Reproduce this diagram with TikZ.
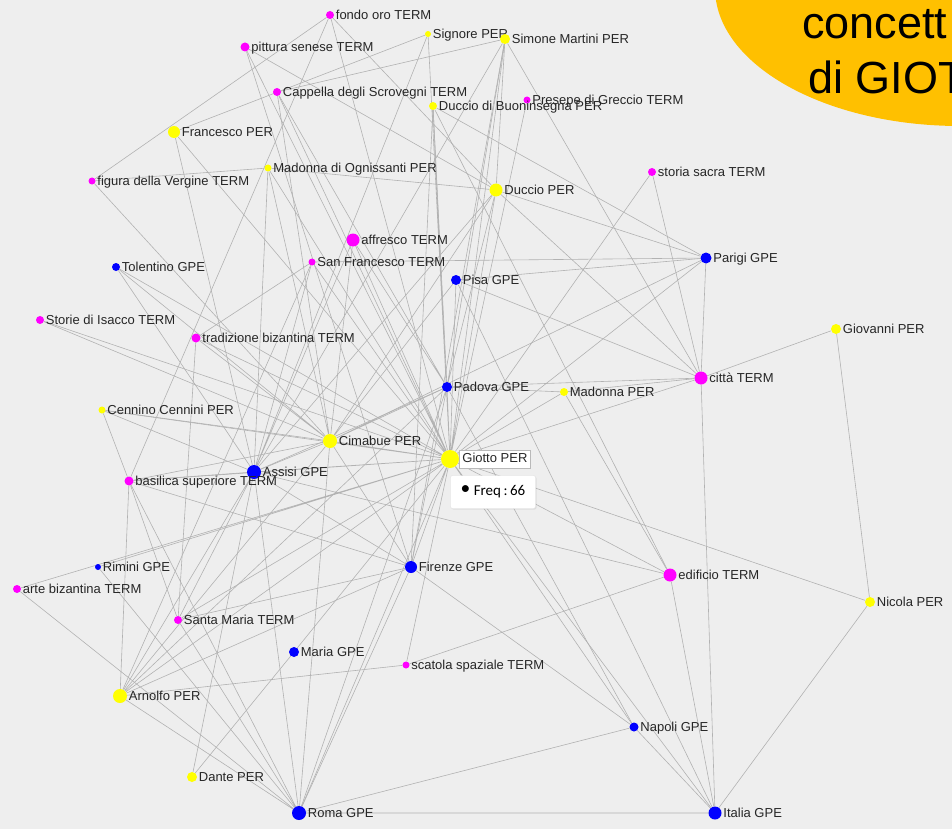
\documentclass[tikz,border=0pt]{standalone}
\usepackage{fontspec}
\setmainfont{Liberation Sans}
\newfontfamily\tipfont{Carlito}
\usetikzlibrary{positioning, shadows}

\definecolor{bggray}{RGB}{238,238,238}
\definecolor{blobgold}{RGB}{255,192,0}
\definecolor{lnkgray}{RGB}{178,178,178}
\definecolor{peryellow}{RGB}{255,255,0}
\definecolor{termpink}{RGB}{255,0,255}
\definecolor{gpeblue}{RGB}{0,0,255}

\pgfdeclarelayer{back}
\pgfdeclarelayer{links}
\pgfsetlayers{back,links,main}

\begin{document}
\begin{tikzpicture}[
  x=1pt, y=-1pt,
  spot/.style={circle, inner sep=0pt, minimum size=#1pt},
  per/.style={spot=#1, fill=peryellow},
  term/.style={spot=#1, fill=termpink},
  gpe/.style={spot=#1, fill=gpeblue},
  lab/.style={font=\fontsize{13}{15}\selectfont, text=black!85,
              inner sep=1.5pt, text height=9.3pt, text depth=0pt},
  labbox/.style={lab, draw=gray!55, fill=white, inner xsep=3pt,
                 inner ysep=3pt, text height=10pt, text depth=2.5pt},
  tip/.style={draw=gray!25, fill=white, rounded corners=2pt,
              minimum width=85pt, minimum height=33pt,
              font=\tipfont\fontsize{15}{17}\selectfont,
              drop shadow={opacity=0.15, shadow xshift=1pt, shadow yshift=-1pt}},
  lnk/.style={draw=lnkgray, line width=0.6pt},
  ttl/.style={font=\fontsize{45}{54}\selectfont, anchor=base west, inner sep=0pt}
]
\useasboundingbox (0,0) rectangle (952,829);
\begin{pgfonlayer}{back}
  \fill[bggray] (0,0) rectangle (952,829);
\end{pgfonlayer}
\clip (0,0) rectangle (952,829);

% title blob
\fill[blobgold] (960,-12) ellipse [x radius=245pt, y radius=138pt];
\node[ttl] (ttlone) at (802,39) {concett};
\node[ttl] (ttltwo) at (808,94) {di GIOT};

% top row
\node[term=8,  label={[lab]right:fondo oro TERM}] (fondo) at (330,15) {};
\node[term=9,  label={[lab]right:pittura senese TERM}] (pittura) at (245,47) {};
\node[per=6,   label={[lab]right:Signore PER}] (signore) at (428,34) {};
\node[per=10,  label={[lab]right:Simone Martini PER}] (simone) at (505,39) {};
\node[term=8,  label={[lab]right:Cappella degli Scrovegni TERM}] (cappella) at (277,92) {};
\node[term=7,  label={[lab]right:Presepe di Greccio TERM}] (presepe) at (527,100) {};
\node[per=8,   label={[lab]right:Duccio di Buoninsegna PER}] (buonins) at (433,106) {};
\node[per=12,  label={[lab]right:Francesco PER}] (francesco) at (174,132) {};
\node[per=7,   label={[lab]right:Madonna di Ognissanti PER}] (ognissanti) at (268,168) {};
\node[term=7,  label={[lab]right:figura della Vergine TERM}] (vergine) at (92,181) {};
\node[term=8,  label={[lab]right:storia sacra TERM}] (storia) at (652,172) {};
\node[per=13,  label={[lab]right:Duccio PER}] (duccio) at (496,190) {};
% middle band
\node[term=13, label={[lab]right:affresco TERM}] (affresco) at (353,240) {};
\node[term=7,  label={[lab]right:San Francesco TERM}] (sanfr) at (312,262) {};
\node[gpe=8,   label={[lab]right:Tolentino GPE}] (tolentino) at (116,267) {};
\node[gpe=10,  label={[lab]right:Pisa GPE}] (pisa) at (456,280) {};
\node[gpe=11,  label={[lab]right:Parigi GPE}] (parigi) at (706,258) {};
\node[term=8,  label={[lab]right:Storie di Isacco TERM}] (isacco) at (40,320) {};
\node[term=9,  label={[lab]right:tradizione bizantina TERM}] (tradbiz) at (196,338) {};
\node[per=10,  label={[lab]right:Giovanni PER}] (giovanni) at (836,329) {};
\node[gpe=10,  label={[lab]right:Padova GPE}] (padova) at (447,387) {};
\node[per=8,   label={[lab]right:Madonna PER}] (madonna) at (564,392) {};
\node[term=13, label={[lab]right:città TERM}] (citta) at (701,378) {};
\node[per=7,   label={[lab]right:Cennino Cennini PER}] (cennino) at (102,410) {};
\node[per=14,  label={[lab]right:Cimabue PER}] (cimabue) at (330,441) {};
\node[per=18,  label={[labbox]right:Giotto PER}] (giotto) at (450,459) {};
\node[gpe=14,  label={[lab]right:Assisi GPE}] (assisi) at (254,472) {};
\node[term=9,  label={[lab]right:basilica superiore TERM}] (basilica) at (129,481) {};
% lower half
\node[gpe=6,   label={[lab]right:Rimini GPE}] (rimini) at (98,567) {};
\node[gpe=12,  label={[lab]right:Firenze GPE}] (firenze) at (411,567) {};
\node[term=13, label={[lab]right:edificio TERM}] (edificio) at (670,575) {};
\node[term=8,  label={[lab]right:arte bizantina TERM}] (artebiz) at (17,589) {};
\node[per=10,  label={[lab]right:Nicola PER}] (nicola) at (870,602) {};
\node[term=8,  label={[lab]right:Santa Maria TERM}] (santamaria) at (178,620) {};
\node[gpe=10,  label={[lab]right:Maria GPE}] (maria) at (294,652) {};
\node[term=7,  label={[lab]right:scatola spaziale TERM}] (scatola) at (406,665) {};
\node[per=14,  label={[lab]right:Arnolfo PER}] (arnolfo) at (120,696) {};
\node[gpe=9,   label={[lab]right:Napoli GPE}] (napoli) at (634,727) {};
\node[per=10,  label={[lab]right:Dante PER}] (dante) at (192,777) {};
\node[gpe=14,  label={[lab]right:Roma GPE}] (roma) at (299,813) {};
\node[gpe=13,  label={[lab]right:Italia GPE}] (italia) at (715,813) {};

% tooltip
\node[tip] (freq) at (493,492) {\raisebox{1pt}{\scalebox{1.3}{\textbullet}}\ Freq\,:\,66};

\begin{pgfonlayer}{links}
% Giotto hub
\draw[lnk] (giotto) -- (fondo) (giotto) -- (pittura) (giotto) -- (signore)
  (giotto) -- (simone) (giotto) -- (cappella) (giotto) -- (presepe)
  (giotto) -- (buonins) (giotto) -- (francesco) (giotto) -- (ognissanti)
  (giotto) -- (storia) (giotto) -- (duccio) (giotto) -- (affresco)
  (giotto) -- (sanfr) (giotto) -- (tolentino) (giotto) -- (pisa)
  (giotto) -- (parigi) (giotto) -- (isacco) (giotto) -- (tradbiz)
  (giotto) -- (padova) (giotto) -- (madonna) (giotto) -- (citta)
  (giotto) -- (cennino) (giotto) -- (cimabue) (giotto) -- (assisi)
  (giotto) -- (basilica) (giotto) -- (rimini) (giotto) -- (firenze)
  (giotto) -- (edificio) (giotto) -- (artebiz) (giotto) -- (nicola)
  (giotto) -- (santamaria) (giotto) -- (maria) (giotto) -- (scatola)
  (giotto) -- (arnolfo) (giotto) -- (napoli) (giotto) -- (roma)
  (giotto) -- (italia);
% Cimabue
\draw[lnk] (cimabue) -- (vergine) (cimabue) -- (ognissanti) (cimabue) -- (duccio)
  (cimabue) -- (affresco) (cimabue) -- (cappella) (cimabue) -- (pisa)
  (cimabue) -- (parigi) (cimabue) -- (padova) (cimabue) -- (tolentino)
  (cimabue) -- (isacco) (cimabue) -- (tradbiz) (cimabue) -- (cennino)
  (cimabue) -- (basilica) (cimabue) -- (assisi) (cimabue) -- (firenze)
  (cimabue) -- (arnolfo) (cimabue) -- (roma);
% Assisi
\draw[lnk] (assisi) -- (francesco) (assisi) -- (signore) (assisi) -- (ognissanti)
  (assisi) -- (simone) (assisi) -- (duccio) (assisi) -- (affresco)
  (assisi) -- (sanfr) (assisi) -- (padova) (assisi) -- (tolentino)
  (assisi) -- (cennino) (assisi) -- (basilica) (assisi) -- (santamaria)
  (assisi) -- (firenze) (assisi) -- (edificio) (assisi) -- (arnolfo)
  (assisi) -- (roma) (assisi) -- (dante);
% Padova, Firenze, Roma
\draw[lnk] (padova) -- (cappella) (padova) -- (simone) (padova) -- (buonins)
  (padova) -- (duccio) (padova) -- (affresco) (padova) -- (madonna)
  (padova) -- (citta) (padova) -- (firenze) (padova) -- (napoli)
  (padova) -- (roma) (padova) -- (arnolfo);
\draw[lnk] (firenze) -- (pittura) (firenze) -- (simone) (firenze) -- (buonins)
  (firenze) -- (santamaria) (firenze) -- (basilica) (firenze) -- (arnolfo)
  (firenze) -- (roma) (firenze) -- (napoli);
\draw[lnk] (roma) -- (rimini) (roma) -- (artebiz) (roma) -- (basilica)
  (roma) -- (santamaria) (roma) -- (arnolfo) (roma) -- (napoli)
  (roma) -- (italia);
% left side
\draw[lnk] (arnolfo) -- (basilica) (arnolfo) -- (sanfr) (arnolfo) -- (scatola);
\draw[lnk] (santamaria) -- (tradbiz) (santamaria) -- (basilica);
\draw[lnk] (basilica) -- (cennino) (basilica) -- (fondo);
\draw[lnk] (maria) -- (dante);
\draw[lnk] (tradbiz) -- (sanfr);
\draw[lnk] (vergine) -- (fondo) (vergine) -- (ognissanti);
\draw[lnk] (francesco) -- (signore);
% top side
\draw[lnk] (ognissanti) -- (duccio) (fondo) -- (duccio) (pittura) -- (duccio);
\draw[lnk] (simone) -- (cappella) (simone) -- (duccio) (simone) -- (citta);
\draw[lnk] (buonins) -- (edificio) (buonins) -- (parigi);
\draw[lnk] (storia) -- (citta);
\draw[lnk] (duccio) -- (citta) (duccio) -- (parigi);
% right side
\draw[lnk] (sanfr) -- (parigi);
\draw[lnk] (pisa) -- (parigi) (pisa) -- (citta) (pisa) -- (italia);
\draw[lnk] (parigi) -- (citta);
\draw[lnk] (citta) -- (giovanni) (citta) -- (italia) (citta) -- (madonna);
\draw[lnk] (madonna) -- (edificio);
\draw[lnk] (giovanni) -- (nicola);
\draw[lnk] (nicola) -- (italia);
\draw[lnk] (scatola) -- (edificio);
\draw[lnk] (edificio) -- (italia);
\draw[lnk] (napoli) -- (italia);
\end{pgfonlayer}
\end{tikzpicture}
\end{document}
